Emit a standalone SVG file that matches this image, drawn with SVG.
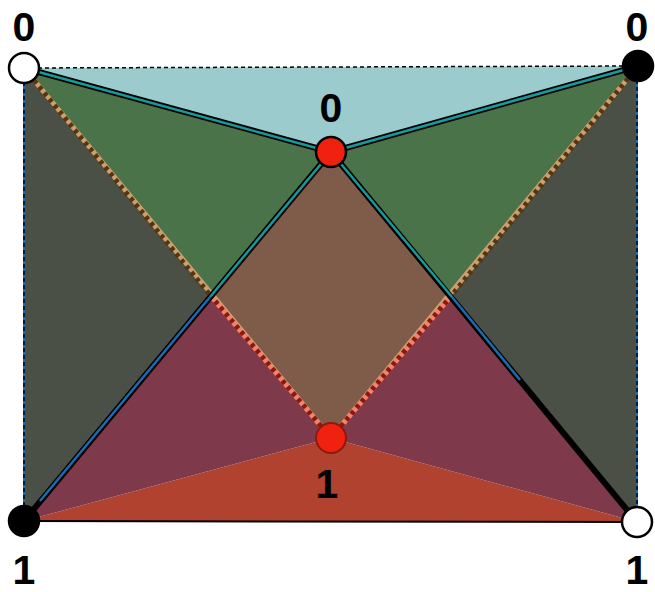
<svg xmlns="http://www.w3.org/2000/svg" width="655" height="592" viewBox="0 0 655 592">
<style>
.lbl{font-family:"Liberation Sans",Arial,sans-serif;font-weight:bold;font-size:41px;fill:#000;text-anchor:middle}
.blk{stroke:#000;stroke-width:6;fill:none;stroke-linecap:round}
.teal{stroke:#17999e;stroke-width:2.5;fill:none}
.blue{stroke:#1b6db3;stroke-width:2.5;fill:none}
.tan{stroke:#c9a06e;stroke-width:5;fill:none}
.tandash{stroke:#5a3410;stroke-width:5;stroke-dasharray:4 4;fill:none}
.sal{stroke:#f4806e;stroke-width:5;fill:none}
.saldash{stroke:#8a1a10;stroke-width:5;stroke-dasharray:4 4;fill:none}
.edge{stroke:#000;stroke-width:1.5;stroke-dasharray:4 3;fill:none}
.wn{fill:#fff;stroke:#000;stroke-width:2.5}
.bn{fill:#000;stroke:#000;stroke-width:2.5}
.rn{fill:#f0210e;stroke:#000;stroke-width:2.5}
.rn2{fill:#f0210e;stroke:#8a1a10;stroke-width:2}
</style>
<g id="regions">
<polygon points="24,68 638,66 331,152" fill="#9bcbcc"/>
<polygon points="24,521 637,522 331,438" fill="#b0422f"/>
<polygon points="24,68 210,295 24,521" fill="#4a5045"/>
<polygon points="638,66 452,295 637,522" fill="#4a5045"/>
<polygon points="24,68 331,152 210,295" fill="#4a7349"/>
<polygon points="638,66 331,152 452,295" fill="#4a7349"/>
<polygon points="331,152 452,295 331,438 210,295" fill="#7f5b4a"/>
<polygon points="210,295 331,438 24,521" fill="#7e3a4b"/>
<polygon points="452,295 331,438 637,522" fill="#7e3a4b"/>
</g>
<g id="connectors">
<line x1="24" y1="68" x2="638" y2="66" class="edge"/>
<line x1="24" y1="68" x2="24" y2="521" stroke="#1b6db3" stroke-width="2"/>
<line x1="24" y1="68" x2="24" y2="521" class="edge"/>
<line x1="637" y1="66" x2="637" y2="522" stroke="#1b6db3" stroke-width="2"/>
<line x1="637" y1="66" x2="637" y2="522" class="edge"/>
<line x1="24" y1="521" x2="637" y2="522" stroke="#000" stroke-width="2"/>
<line x1="24" y1="68" x2="331" y2="438" class="tan"/>
<line x1="24" y1="68" x2="210" y2="295" class="tandash"/>
<line x1="210" y1="295" x2="331" y2="438" class="sal"/>
<line x1="210" y1="295" x2="331" y2="438" class="saldash"/>
<line x1="638" y1="66" x2="331" y2="438" class="tan"/>
<line x1="638" y1="66" x2="452" y2="295" class="tandash"/>
<line x1="452" y1="295" x2="331" y2="438" class="sal"/>
<line x1="452" y1="295" x2="331" y2="438" class="saldash"/>
<line x1="24" y1="68" x2="331" y2="152" class="blk"/>
<line x1="24" y1="68" x2="331" y2="152" class="teal" stroke-width="3"/>
<line x1="638" y1="66" x2="331" y2="152" class="blk" stroke-width="5"/>
<line x1="638" y1="66" x2="331" y2="152" class="teal" stroke-width="1.5"/>
<line x1="331" y1="152" x2="24" y2="521" class="blk"/>
<line x1="331" y1="152" x2="210" y2="297" class="teal"/>
<line x1="210" y1="297" x2="40" y2="501" class="blue"/>
<line x1="331" y1="152" x2="637" y2="522" class="blk"/>
<line x1="331" y1="152" x2="452" y2="297" class="teal"/>
<line x1="452" y1="297" x2="520" y2="380" class="blue"/>
</g>
<g id="n-tl"><circle cx="24" cy="68" r="15" class="wn"/><text x="24" y="41" class="lbl">0</text></g>
<g id="n-tr"><circle cx="638" cy="66" r="15" class="bn"/><text x="637" y="41" class="lbl">0</text></g>
<g id="n-top"><circle cx="331" cy="152" r="15" class="rn"/><text x="331" y="122" class="lbl">0</text></g>
<g id="n-bot"><circle cx="331" cy="438" r="15" class="rn2"/><text x="327" y="498" class="lbl">1</text></g>
<g id="n-bl"><circle cx="24" cy="521" r="15" class="bn"/><text x="24" y="584" class="lbl">1</text></g>
<g id="n-br"><circle cx="637" cy="522" r="15" class="wn"/><text x="637" y="584" class="lbl">1</text></g>
</svg>
